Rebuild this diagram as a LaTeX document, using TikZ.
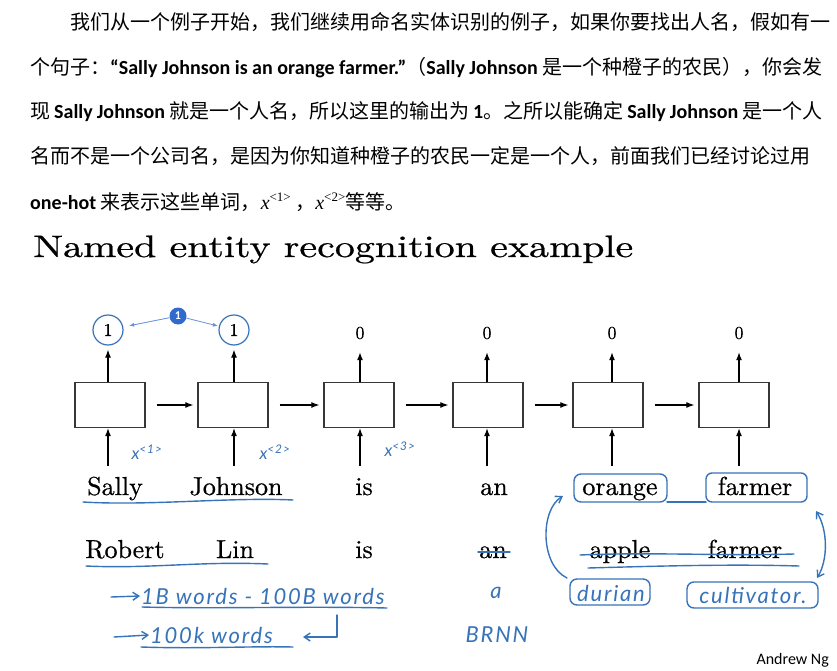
\documentclass[tikz,border=0pt]{standalone}
\usepackage{fontspec}
\usepackage{graphicx}
\usetikzlibrary{arrows.meta}
\newfontfamily\cjk{Noto Sans CJK SC}
\newfontfamily\lat{Carlito}
\newfontfamily\tms{Liberation Serif}
\newfontfamily\hand{Lato}[LetterSpace=8]
\newfontfamily\andrew{Carlito}
\newfontfamily\lmten{lmroman10-regular}[Extension=.otf, FakeBold=0.6]
\XeTeXlinebreaklocale "zh"
\XeTeXlinebreakskip=0pt plus 4pt
\definecolor{handc}{RGB}{55,115,185}
\definecolor{dotblue}{RGB}{50,105,205}
\definecolor{cellgray}{RGB}{55,55,55}
\newcommand{\lb}[1]{{\lat\bfseries #1}}
\newcommand{\myxsup}[1]{{\tms\itshape x}\raisebox{8pt}{\tms\fontsize{13}{13}\selectfont <#1>}}
\tikzset{
  topline/.style={anchor=base west, inner sep=0pt, font=\cjk\fontsize{20}{20}\selectfont},
  cell/.style={draw=cellgray, line width=1.3pt, minimum width=70pt, minimum height=45pt, inner sep=0pt},
  outn/.style={circle, minimum size=30pt, inner sep=0pt, font=\lmten\fontsize{18}{18}\selectfont},
  circled/.style={draw=handc, line width=1.2pt},
  word/.style={font=\lmten\fontsize{26}{26}\selectfont, text height=18pt, text depth=5pt, inner sep=2pt, anchor=base},
  arr/.style={line width=1.2pt, -{Latex[length=8pt,width=6pt]}},
  handline/.style={draw=handc, line width=1.4pt, line cap=round, line join=round},
  handtext/.style={text=handc, font=\hand\itshape\fontsize{22}{22}\selectfont, inner sep=1pt},
  handsup/.style={text=handc, font=\hand\itshape\fontsize{17}{17}\selectfont, inner sep=1pt},
  handarr/.style={handline, -{Straight Barb[length=6pt,width=8pt]}},
  handarrs/.style={handline, {Straight Barb[length=6pt,width=8pt]}-{Straight Barb[length=6pt,width=8pt]}},
}
\begin{document}
\begin{tikzpicture}[x=1pt,y=-1pt]
\useasboundingbox[fill=white] (0,0) rectangle (837,671);

% ---- top paragraph ----
\node[topline] (t1) at (70,30) {\hbox to 752pt{我们从一个例子开始，我们继续用命名实体识别的例子，如果你要找出人名，假如有一}};
\node[topline] (t2) at (30,75) {\hbox to 792pt{个句子：\lb{“Sally Johnson is an orange farmer.”}（\lb{Sally Johnson} 是一个种橙子的农民），你会发}};
\node[topline] (t3) at (30,119) {\hbox to 792pt{现 \lb{Sally Johnson} 就是一个人名，所以这里的输出为 \lb{1}。之所以能确定 \lb{Sally Johnson} 是一个人}};
\node[topline] (t4) at (30,164) {\hbox to 792pt{名而不是一个公司名，是因为你知道种橙子的农民一定是一个人，前面我们已经讨论过用}};
\node[topline] (t5) at (30,209) {\lb{one-hot} 来表示这些单词，\myxsup{1} ，\myxsup{2}等等。};

% ---- title ----
\node[anchor=base west, inner sep=0pt] (title) at (33,257) {\resizebox{600pt}{\height}{\lmten\fontsize{31}{31}\selectfont Named entity recognition example}};

% ---- RNN cells ----
\node[cell] (c1) at (110,405) {};
\node[cell] (c2) at (233,405) {};
\node[cell] (c3) at (359,405) {};
\node[cell] (c4) at (488,405) {};
\node[cell] (c5) at (608,405) {};
\node[cell] (c6) at (734,405) {};

\foreach \a/\b in {c1/c2,c2/c3,c3/c4,c4/c5,c5/c6}
  \draw[arr, shorten <=11pt, shorten >=4pt] (\a.east) -- (\b.west);

% ---- outputs ----
\node[outn, circled] (y1) at (108,330) {1};
\node[outn, circled] (y2) at (234,330) {1};
\node[outn] (y3) at (360,333) {0};
\node[outn] (y4) at (487,333) {0};
\node[outn] (y5) at (612,333) {0};
\node[outn] (y6) at (739,333) {0};

\foreach \i in {1,...,6}
  \draw[arr, shorten >=4pt] (c\i.north -| y\i) -- (y\i.south);

% blue dot annotation
\node[circle, fill=dotblue, minimum size=17pt, inner sep=0pt, text=white, font=\lat\bfseries\fontsize{12}{12}\selectfont] (bd) at (178,316) {1};
\draw[dotblue!75, line width=0.8pt, -{Latex[length=5pt,width=4pt]}, shorten >=6pt] (bd) -- (y1);
\draw[dotblue!75, line width=0.8pt, -{Latex[length=5pt,width=4pt]}, shorten >=1pt] (bd) -- (y2);

% ---- words row 1 ----
\node[word] (w1) at (115,495) {Sally};
\node[word] (w2) at (236,495) {Johnson};
\node[word] (w3) at (364,495) {is};
\node[word] (w4) at (494,495) {an};
\node[word] (w5) at (620,495) {orange};
\node[word] (w6) at (755,495) {farmer};

\foreach \i in {1,...,6}
  \draw[arr, shorten <=9pt] (y\i |- w\i.north) -- (y\i |- c\i.south);

% x labels
\node[handsup] (x1) at (147,452) {x\textsuperscript{<1>}};
\node[handsup] (x2) at (275,452) {x\textsuperscript{<2>}};
\node[handsup] (x3) at (400,449) {x\textsuperscript{<3>}};

% ---- words row 2 ----
\node[word] (r1) at (125,558) {Robert};
\node[word] (r2) at (235,558) {Lin};
\node[word] (r3) at (364,558) {is};
\node[word] (r4) at (493,558) {an};
\node[word] (r5) at (620,558) {apple};
\node[word] (r6) at (745,558) {farmer};

% ---- handwritten annotations ----
\draw[handline] (83,502) .. controls (150,506) and (230,497) .. (293,500);
\draw[handline] (86,566) .. controls (150,569) and (200,561) .. (268,564);

% strike-throughs
\draw[handline] (478,552) -- (510,552);
\draw[handline] (580,555) .. controls (650,552) and (720,556) .. (794,554);
\draw[handline] (588,568) .. controls (660,566) and (730,564) .. (799,566);

% boxes around orange / farmer / durian / cultivator
\draw[handline, rounded corners=7pt] (574,474) rectangle (667,502);
\draw[handline, rounded corners=6pt] (706,473) rectangle (807,502);
\draw[handline] (667,502) -- (706,502);
\draw[handline, rounded corners=7pt] (570,579) rectangle (650,605);
\draw[handline, rounded corners=7pt] (687,582) rectangle (818,608);

\node[handtext] (du) at (611,593) {durian};
\node[handtext] (cu) at (753,595) {cultivator.};
\node[handtext] (aa) at (496,593) {a};
\node[handtext] (brnn) at (497,635) {BRNN};

% curved arrows linking the rows
\coordinate (la) at (563,496);
\coordinate (lb) at (567,578);
\draw[handarr] (lb) .. controls (540,565) and (540,510) .. (la);
\coordinate (ra) at (816,511);
\coordinate (rb) at (817,578);
\draw[handarrs] (ra) .. controls (828,530) and (828,560) .. (rb);

% vocabulary notes
\node[handtext, anchor=west] (n1) at (140,596) {1B words - 100B words};
\coordinate (n1a) at (111,597);
\draw[handarr] (n1a) -- (n1.west);
\draw[handline] (142,607) .. controls (220,609) and (300,606) .. (387,608);

\node[handtext, anchor=west] (n2) at (149,635) {100k words};
\coordinate (n2a) at (114,637);
\draw[handarr] (n2a) -- (n2.west);
\draw[handline] (141,647) .. controls (200,649) and (250,646) .. (293,647);
\coordinate (hk1) at (337,615);
\coordinate (hk2) at (337,637);
\coordinate (hk3) at (303,637);
\draw[handarr] (hk1) -- (hk2) -- (hk3);

% credit
\node[anchor=base east, inner sep=0pt, font=\andrew\fontsize{16}{16}\selectfont] (ng) at (829,664) {Andrew Ng};
\end{tikzpicture}
\end{document}
